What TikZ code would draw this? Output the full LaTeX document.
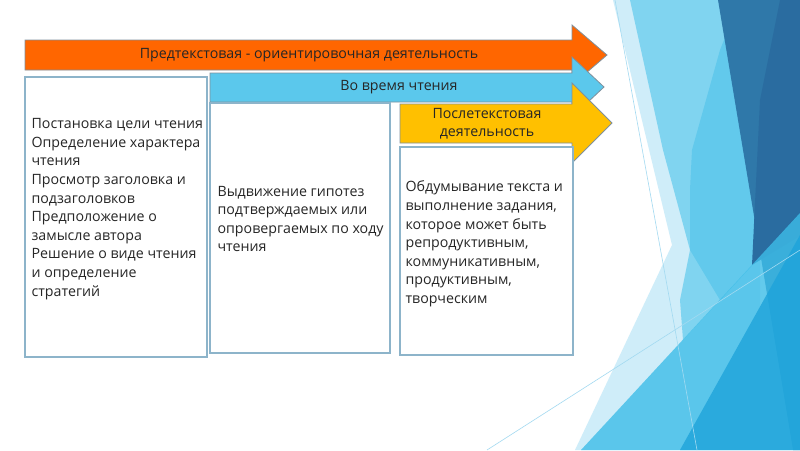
\documentclass[tikz,border=0pt]{standalone}
\usepackage{fontspec}
\setmainfont{Open Sans}
\usetikzlibrary{calc,positioning}

\definecolor{preorange}{HTML}{FF6600}
\definecolor{whileblue}{HTML}{5BC8EC}
\definecolor{postyellow}{HTML}{FFC000}
\definecolor{arrowgray}{HTML}{7F909C}
\definecolor{boxblue}{HTML}{8DB4CA}
\definecolor{facetpale}{HTML}{CFEDF9}
\definecolor{facetlight}{HTML}{80D4F0}
\definecolor{facetmid}{HTML}{62C9EC}
\definecolor{facetcyan}{HTML}{3DBDE8}
\definecolor{facetbright}{HTML}{1EA3DA}
\definecolor{facetsteel}{HTML}{2F78A9}
\definecolor{facetdark}{HTML}{2A6CA0}
\definecolor{facetline}{HTML}{A3DAF1}

\begin{document}
\begin{tikzpicture}[x=1pt,y=-1pt,
  phase/.style={draw=arrowgray,line width=0.8pt,line join=miter},
  phasetext/.style={font=\fontsize{14.2}{18}\selectfont,align=center,text=black!85},
  stagebox/.style={draw=boxblue,line width=1.2pt,fill=white,inner sep=0pt},
  stagetext/.style={font=\fontsize{14.2}{18.6}\selectfont,align=left,anchor=west,inner sep=0pt,text=black!85}
]
  \useasboundingbox (0,0) rectangle (800,450);
  \fill[white] (0,0) rectangle (800,450);

  % facets on the right
  \fill[facetpale] (613,0) -- (760,0) -- (760,450) -- (575,450) -- (672,245) -- cycle;
  \fill[facetlight] (630,0) -- (760,0) -- (760,257) -- (683,340) -- (680,300)
    -- (690,250) -- (663,150) -- cycle;
  \fill[facetmid] (720,50) -- (740,0) -- (800,0) -- (800,213) -- (720,300)
    -- (690,250) -- (690,190) -- (692,150) -- cycle;
  \fill[facetsteel] (718,0) -- (800,0) -- (800,450) -- (793,450) -- cycle;
  \fill[facetdark] (780,0) -- (800,0) -- (800,236) -- (752,265) -- (760,100) -- cycle;
  \fill[facetcyan,fill opacity=0.8] (581,450) -- (800,213) -- (800,450) -- cycle;
  \fill[facetbright,fill opacity=0.8] (680,450) -- (800,235) -- (800,450) -- cycle;
  \draw[facetline,line width=0.6pt] (615,0) -- (697,450);
  \draw[facetline,line width=0.6pt] (487,450) -- (800,250);

  % phase arrows
  \draw[phase,fill=preorange] (25,40) -- (572,40) -- (572,25) -- (607,55)
    -- (572,85) -- (572,70) -- (25,70) -- cycle;
  \draw[phase,fill=whileblue] (210,73) -- (572,73) -- (572,57) -- (604,87)
    -- (572,117) -- (572,102) -- (210,102) -- cycle;
  \draw[phase,fill=postyellow] (400,104) -- (572,104) -- (572,83) -- (612,123)
    -- (572,163) -- (572,143) -- (400,143) -- cycle;

  \node[phasetext] (pre) at (309,55) {Предтекстовая - ориентировочная деятельность};
  \node[phasetext] (while) at (399,87) {Во время чтения};
  \node[phasetext] (post) at (487,124) {Послетекстовая\\деятельность};

  % stage boxes
  \node[stagebox,minimum width=182pt,minimum height=280pt] (before) at (116,217) {};
  \node[stagebox,minimum width=180pt,minimum height=250pt] (during) at (300,228) {};
  \node[stagebox,minimum width=173pt,minimum height=208pt] (after) at (486.5,251) {};

  \node[stagetext] (beforetext) at ($(before.west)+(7,-8)$)
    {Постановка цели чтения\\Определение характера\\чтения\\Просмотр заголовка и\\подзаголовков\\Предположение о\\замысле автора\\Решение о виде чтения\\и определение\\стратегий};
  \node[stagetext] (duringtext) at ($(during.west)+(8,-9)$)
    {Выдвижение гипотез\\подтверждаемых или\\опровергаемых по ходу\\чтения};
  \node[stagetext] (aftertext) at ($(after.west)+(6,-7)$)
    {Обдумывание текста и\\выполнение задания,\\которое может быть\\репродуктивным,\\коммуникативным,\\продуктивным,\\творческим};
\end{tikzpicture}
\end{document}
